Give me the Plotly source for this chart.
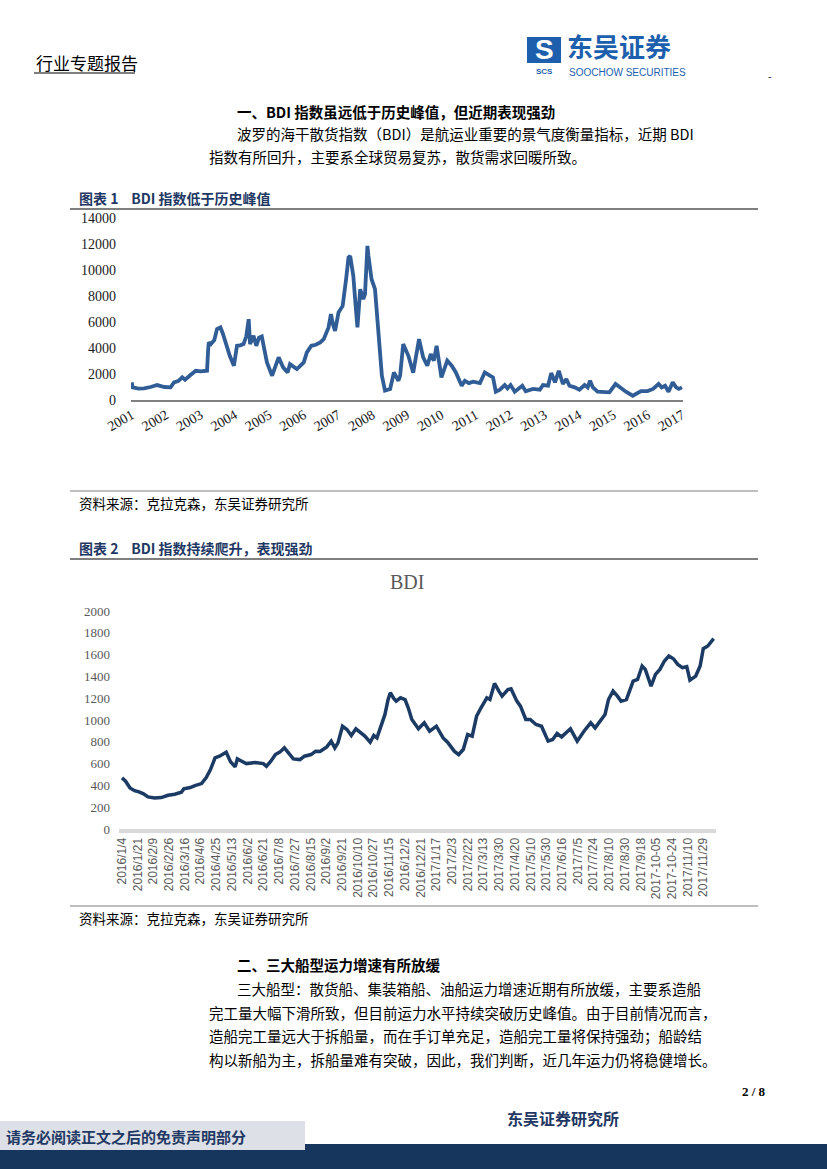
import plotly.graph_objects as go

W, H = 827, 1169


def px(x):
    return x / W


def py(y):
    return 1 - y / H


# ---------------- Chart 1 data: BDI history 2001-2017 ----------------
hist_year = [
    2001.00, 2001.03, 2001.20, 2001.36, 2001.55, 2001.74, 2001.95, 2002.13, 2002.23, 2002.35,
    2002.47, 2002.55, 2002.70, 2002.86, 2003.00, 2003.19, 2003.22, 2003.24, 2003.30, 2003.40,
    2003.48, 2003.58, 2003.65, 2003.72, 2003.85, 2003.97, 2004.06, 2004.15, 2004.25, 2004.33,
    2004.40, 2004.44, 2004.54, 2004.62, 2004.70, 2004.78, 2004.93, 2005.08, 2005.18, 2005.27,
    2005.40, 2005.53, 2005.60, 2005.80, 2006.00, 2006.09, 2006.22, 2006.35, 2006.48, 2006.58,
    2006.72, 2006.79, 2006.85, 2006.91, 2007.01, 2007.13, 2007.23, 2007.30, 2007.35, 2007.44,
    2007.50, 2007.56, 2007.64, 2007.73, 2007.78, 2007.85, 2007.88, 2007.97, 2008.07, 2008.17,
    2008.27, 2008.36, 2008.45, 2008.51, 2008.62, 2008.75, 2008.80, 2008.89, 2009.04, 2009.18,
    2009.35, 2009.47, 2009.59, 2009.69, 2009.78, 2009.86, 2010.00, 2010.17, 2010.30, 2010.42,
    2010.59, 2010.68, 2010.80, 2010.92, 2011.12, 2011.26, 2011.41, 2011.50, 2011.58, 2011.70,
    2011.84, 2011.92, 2012.01, 2012.13, 2012.35, 2012.45, 2012.66, 2012.86, 2012.95, 2013.10,
    2013.19, 2013.30, 2013.41, 2013.53, 2013.63, 2013.72, 2013.87, 2014.01, 2014.16, 2014.25,
    2014.32, 2014.40, 2014.54, 2014.88, 2015.06, 2015.22, 2015.36, 2015.56, 2015.65, 2015.80,
    2015.99, 2016.15, 2016.31, 2016.40, 2016.50, 2016.60, 2016.72, 2016.82, 2016.90, 2016.99,
]
hist_value = [
    1360, 970, 880, 900, 1000, 1150, 1000, 970, 1360, 1450,
    1740, 1560, 1900, 2250, 2200, 2250, 3800, 4430, 4300, 4600,
    5450, 5580, 5100, 4430, 3400, 2640, 4170, 4200, 4300, 4900,
    6220, 4300, 4940, 4170, 4800, 4890, 2890, 1870, 2600, 3280,
    2510, 2120, 2760, 2380, 2890, 3660, 4170, 4250, 4430, 4680,
    5580, 6600, 5800, 5320, 6730, 7240, 9290, 10960, 11080, 9550,
    7500, 5580, 8520, 7760, 8140, 11850, 11080, 9290, 8520, 5450,
    1870, 720, 800, 850, 2120, 1480, 1870, 4300, 3400, 2100,
    4680, 3280, 2640, 3530, 3020, 4170, 1740, 3020, 2640, 2120,
    1100, 1480, 1300, 1410, 1300, 2120, 1870, 1740, 640, 790,
    1150, 900, 1150, 640, 1100, 670, 850, 790, 1150, 1100,
    2070, 1360, 2250, 1230, 1610, 1100, 970, 790, 1150, 970,
    1480, 970, 640, 590, 1230, 900, 640, 330, 440, 690,
    690, 850, 1230, 970, 1100, 640, 1360, 970, 850, 970,
]
hist_ticks = list(range(2001, 2018))
hist_yticks = list(range(0, 14001, 2000))

# ---------------- Chart 2 data: BDI 2016-2017 ----------------
recent_labels = [
    "2016/1/4", "2016/1/21", "2016/2/9", "2016/2/26", "2016/3/16", "2016/4/6", "2016/4/25",
    "2016/5/13", "2016/6/2", "2016/6/21", "2016/7/8", "2016/7/27", "2016/8/15", "2016/9/2",
    "2016/9/21", "2016/10/10", "2016/10/27", "2016/11/15", "2016/12/2", "2016/12/21",
    "2017/1/17", "2017/2/3", "2017/2/22", "2017/3/13", "2017/3/30", "2017/4/20", "2017/5/10",
    "2017/5/30", "2017/6/16", "2017/7/5", "2017/7/24", "2017/8/10", "2017/8/30", "2017/9/18",
    "2017-10-05", "2017-10-24", "2017/11/10", "2017/11/29",
]
recent_pos = [
    0.00, 0.23, 0.51, 0.80, 1.08, 1.37, 1.65, 2.08, 2.50, 2.93,
    3.36, 3.78, 3.93, 4.35, 4.64, 5.06, 5.35, 5.63, 5.92, 6.20,
    6.63, 6.91, 7.20, 7.34, 7.62, 7.91, 8.48, 8.99, 9.19, 9.47,
    9.76, 10.04, 10.33, 10.61, 10.90, 11.32, 11.61, 12.03, 12.32, 12.60,
    13.03, 13.31, 13.54, 13.74, 14.03, 14.31, 14.59, 14.88, 15.16, 15.45,
    15.79, 16.02, 16.22, 16.50, 16.73, 16.93, 17.07, 17.30, 17.44, 17.72,
    18.01, 18.21, 18.44, 18.86, 19.23, 19.57, 20.00, 20.43, 20.71, 21.14,
    21.42, 21.71, 21.99, 22.28, 22.56, 22.84, 23.21, 23.41, 23.70, 23.98,
    24.18, 24.55, 24.75, 25.12, 25.35, 25.69, 25.97, 26.34, 26.69, 27.11,
    27.40, 27.68, 27.97, 28.53, 28.96, 29.39, 29.82, 30.10, 30.38, 30.73,
    30.95, 31.24, 31.52, 31.75, 32.09, 32.52, 32.80, 33.09, 33.29, 33.66,
    33.94, 34.22, 34.51, 34.79, 35.08, 35.36, 35.65, 35.93, 36.13, 36.50,
    36.78, 36.98, 37.27, 37.44, 37.64,
]
recent_value = [
    469, 438, 377, 352, 340, 322, 294, 285, 288, 309,
    319, 337, 368, 380, 398, 417, 469, 545, 652, 668,
    705, 616, 570, 643, 622, 600, 610, 600, 576, 622,
    683, 705, 744, 698, 643, 637, 668, 683, 714, 711,
    753, 806, 744, 790, 943, 913, 858, 919, 888, 852,
    796, 858, 836, 959, 1051, 1188, 1250, 1195, 1173, 1204,
    1188, 1112, 1005, 919, 974, 897, 943, 836, 796, 714,
    683, 729, 867, 852, 1035, 1112, 1204, 1188, 1335, 1265,
    1219, 1280, 1286, 1173, 1127, 1005, 1005, 959, 943, 806,
    821, 876, 845, 919, 806, 897, 974, 928, 989, 1051,
    1188, 1265, 1219, 1173, 1188, 1357, 1372, 1495, 1464, 1311,
    1418, 1464, 1541, 1587, 1562, 1510, 1480, 1489, 1366, 1403,
    1495, 1654, 1679, 1709, 1746,
]
recent_yticks = list(range(0, 2001, 200))

NAVY = "#1F3864"
CJK = "Noto Sans CJK SC"
SERIF = "Liberation Serif"

fig = go.Figure()
fig.add_trace(go.Scatter(
    x=hist_year, y=hist_value, mode="lines", xaxis="x", yaxis="y",
    line=dict(color="#305D96", width=3.8), hoverinfo="skip", showlegend=False,
))
fig.add_trace(go.Scatter(
    x=recent_pos, y=recent_value, mode="lines", xaxis="x2", yaxis="y2",
    line=dict(color="#1B3A64", width=3.5), hoverinfo="skip", showlegend=False,
))

annotations = []


def txt(x, y, text, size=14.5, color="#000000", family=CJK, xanchor="left", bold=False):
    if bold:
        text = "<b>" + text + "</b>"
    annotations.append(dict(
        x=px(x), y=py(y), xref="paper", yref="paper", text=text, showarrow=False,
        xanchor=xanchor, yanchor="middle", font=dict(size=size, color=color, family=family),
    ))


# header
txt(34, 62, "行业专题报告", size=17)
txt(565, 46, "东吴证券", size=26, color="#1E5FAD", bold=True)
txt(567, 73, "SOOCHOW SECURITIES", size=10, color="#1E5FAD", family="Liberation Sans Narrow, Liberation Sans")
txt(544, 50, "S", size=28, color="#FFFFFF", family="Liberation Sans", xanchor="center", bold=True)
txt(544, 71, "SCS", size=8, color="#1E5FAD", family="Liberation Sans", xanchor="center", bold=True)
txt(766, 76, "-", size=10)

# section 1
txt(235, 111, "一、BDI 指数虽远低于历史峰值，但近期表现强劲", size=14.5, bold=True)
txt(235, 133, "波罗的海干散货指数（BDI）是航运业重要的景气度衡量指标，近期 BDI", size=14.5)
txt(207, 156, "指数有所回升，主要系全球贸易复苏，散货需求回暖所致。", size=14.5)

# chart titles and sources
txt(77, 198, "图表 1    BDI 指数低于历史峰值", size=14, color=NAVY, bold=True)
txt(77, 503, "资料来源：克拉克森，东吴证券研究所", size=13.5)
txt(77, 548, "图表 2    BDI 指数持续爬升，表现强劲", size=14, color=NAVY, bold=True)
txt(407, 582, "BDI", size=20, color="#595959", family=SERIF, xanchor="center")
txt(77, 918, "资料来源：克拉克森，东吴证券研究所", size=13.5)

# section 2
txt(235, 964, "二、三大船型运力增速有所放缓", size=14.5, bold=True)
txt(235, 988, "三大船型：散货船、集装箱船、油船运力增速近期有所放缓，主要系造船", size=14.5)
txt(207, 1012, "完工量大幅下滑所致，但目前运力水平持续突破历史峰值。由于目前情况而言，", size=14.5)
txt(207, 1035, "造船完工量远大于拆船量，而在手订单充足，造船完工量将保持强劲；船龄结", size=14.5)
txt(207, 1059, "构以新船为主，拆船量难有突破，因此，我们判断，近几年运力仍将稳健增长。", size=14.5)

# footer
txt(768, 1091, "2 / 8", size=13, family=SERIF, xanchor="right", bold=True)
txt(505, 1118, "东吴证券研究所", size=16, color=NAVY, bold=True)
txt(4, 1136, "请务必阅读正文之后的免责声明部分", size=15, color=NAVY, bold=True)

shapes = []


def hline(x0, x1, y, color, width):
    shapes.append(dict(type="line", xref="paper", yref="paper", x0=px(x0), x1=px(x1),
                       y0=py(y), y1=py(y), line=dict(color=color, width=width)))


def rect(x0, y0, x1, y1, color):
    shapes.append(dict(type="rect", xref="paper", yref="paper", x0=px(x0), x1=px(x1),
                       y0=py(y1), y1=py(y0), fillcolor=color, line=dict(width=0), layer="below"))


hline(34, 135, 73, "#000000", 1)
rect(527, 37, 561, 63, "#1E5FAD")
hline(70, 758, 209, "#7F7F7F", 2)
hline(70, 758, 491, "#7F7F7F", 1)
hline(70, 758, 559, "#7F7F7F", 2)
hline(70, 758, 906, "#7F7F7F", 1)
rect(0, 1144, 827, 1169, "#17365D")
rect(0, 1121, 305, 1150, "#DDE0E6")

fig.update_layout(
    width=W, height=H, margin=dict(l=0, r=0, t=0, b=0, autoexpand=False),
    paper_bgcolor="white", plot_bgcolor="white",
    annotations=annotations, shapes=shapes, showlegend=False,
    xaxis=dict(
        domain=[px(131), px(683)], range=[2000.98, 2017.02], anchor="y", automargin=False,
        tickvals=hist_ticks, ticktext=[str(t) for t in hist_ticks], tickangle=-30,
        showline=True, linecolor="#808080", linewidth=1.5, ticks="",
        showgrid=False, zeroline=False,
        tickfont=dict(family=SERIF, size=14, color="#1a1a1a"),
    ),
    yaxis=dict(
        domain=[py(400), py(218)], range=[0, 14000], anchor="x", automargin=False,
        tickvals=hist_yticks, ticktext=[str(v) for v in hist_yticks],
        showgrid=False, zeroline=False, showline=False, ticks="",
        ticklabelstandoff=14,
        tickfont=dict(family=SERIF, size=14, color="#1a1a1a"),
    ),
    xaxis2=dict(
        domain=[px(119), px(716)], range=[-0.19, 37.79], anchor="y2", automargin=False,
        tickvals=list(range(len(recent_labels))), ticktext=recent_labels, tickangle=-90,
        showline=True, linecolor="#D9D9D9", linewidth=4, ticks="",
        showgrid=False, zeroline=False,
        tickfont=dict(family="Liberation Sans", size=12, color="#595959"),
    ),
    yaxis2=dict(
        domain=[py(829), py(611)], range=[0, 2000], anchor="x2", automargin=False,
        tickvals=recent_yticks, ticktext=[str(v) for v in recent_yticks],
        showgrid=False, zeroline=False, showline=False, ticks="",
        ticklabelstandoff=8,
        tickfont=dict(family=SERIF, size=13, color="#595959"),
    ),
)

fig.write_html(
    "out.html",
    config={"displayModeBar": False},
    post_script="document.body.style.margin='0';document.body.style.overflow='hidden';",
)
